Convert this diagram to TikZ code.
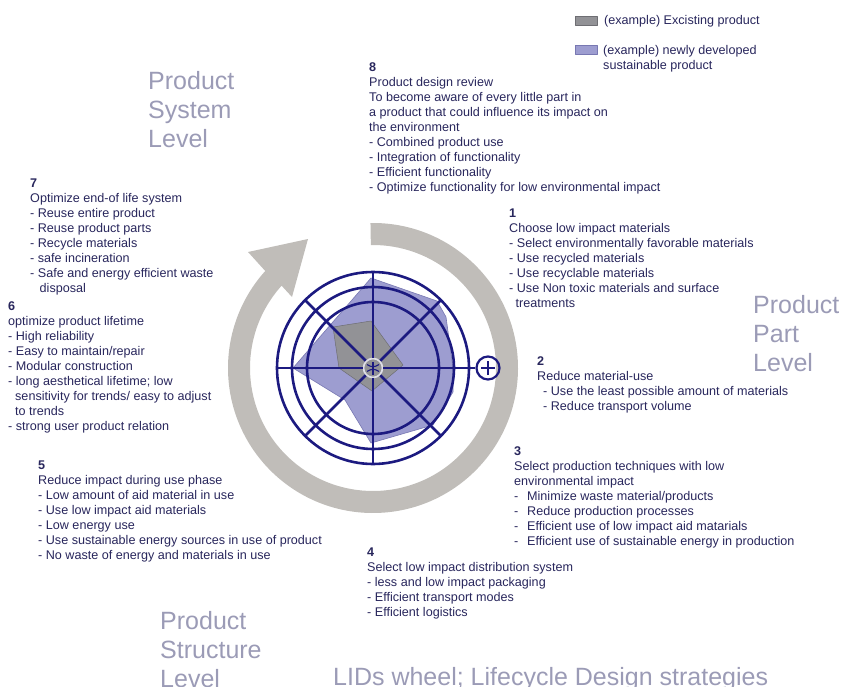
\documentclass[tikz,border=0pt]{standalone}
\usepackage{fontspec}
\setmainfont{Liberation Sans}
\definecolor{textnavy}{RGB}{40,38,92}
\definecolor{levelgray}{RGB}{155,155,182}
\definecolor{wheelnavy}{RGB}{28,26,128}
\definecolor{ringgray}{RGB}{192,189,185}
\definecolor{newblue}{RGB}{157,157,208}
\definecolor{newblueedge}{RGB}{120,120,178}
\definecolor{oldgray}{RGB}{146,146,150}
\definecolor{oldgrayedge}{RGB}{110,110,115}
\definecolor{hubring}{RGB}{222,222,230}
\begin{document}
\begin{tikzpicture}[x=1pt,y=-1pt,
  body/.style={anchor=north west, align=left, inner sep=0pt, text=textnavy,
    font=\fontsize{12.6}{15}\selectfont},
  level/.style={anchor=north west, align=left, inner sep=0pt, text=levelgray,
    font=\fontsize{25}{29}\selectfont},
  wheelline/.style={draw=wheelnavy, line width=2.6pt},
  newprod/.style={fill=newblue, draw=newblueedge, line width=0.6pt, line join=round},
  oldprod/.style={fill=oldgray, draw=oldgrayedge, line width=0.5pt, line join=round},
]
\useasboundingbox (0,0) rectangle (856,687);

% --- legend ---
\node[oldprod, minimum width=22pt, minimum height=9pt, inner sep=0pt] (legold) at (586,20.5) {};
\node[newprod, minimum width=22pt, minimum height=9pt, inner sep=0pt] (legnew) at (586,49.5) {};
\node[body] (legoldtxt) at (604,15.3) {(example) Excisting product};
\node[body] (legnewtxt) at (603,45.3) {(example) newly developed\\sustainable product};

% --- level labels and title ---
\node[level] (sysl) at (148,71) {Product\\System\\Level};
\node[level] (partl) at (753,295) {Product\\Part\\Level};
\node[level] (strl) at (160,611) {Product\\Structure\\Level};
\node[level, anchor=base west] (title) at (333,685) {LIDs wheel; Lifecycle Design strategies};

% --- lifecycle ring with arrow ---
\begin{scope}[shift={(373,368)}, yscale=-1]
  \fill[ringgray] (91:145) arc[start angle=91, end angle=-222, radius=145]
    -- (-125,116) -- (-65,129) -- (-81,71) -- (-222:123)
    arc[start angle=-222, end angle=91, radius=123] -- cycle;
\end{scope}

% --- strategy profiles ---
\draw[newprod] (371,278) -- (437,301) -- (446,317) -- (453,368) -- (453,392)
  -- (433,425) -- (371,443) -- (345,400) -- (293,368) -- cycle;
\draw[oldprod] (333,327) -- (371,321) -- (403,365) -- (372,391) -- (339,368) -- cycle;

% --- wheel grid ---
\begin{scope}[shift={(373,368)}, yscale=-1]
  \node[circle, draw=hubring, line width=1.7pt, minimum size=19pt, inner sep=0pt] (hub) at (0,0) {};
  \node[circle, wheelline, line width=2.2pt, minimum size=23pt, inner sep=0pt] (plus) at (115,0) {};
  \draw[wheelline] (0,0) circle[radius=66];
  \draw[wheelline] (0,0) circle[radius=81];
  \draw[wheelline] (0,0) circle[radius=96];
  \foreach \a in {45,90,...,315}
    \draw[wheelline] (hub.\a) -- (\a:96);
  \draw[wheelline] (hub.east) -- (plus.west);
  \draw[wheelnavy, line width=2pt] (plus.center) ++(-7,0) -- ++(14,0);
  \draw[wheelnavy, line width=2pt] (plus.center) ++(0,-7) -- ++(0,14);
  % hub emblem
  \draw[wheelnavy, line width=1.1pt] (0,-6.5) -- (0,6.5);
  \draw[wheelnavy, line width=1.1pt] (-6,3.5) .. controls (-2,0.6) and (2,0.6) .. (6,3.5);
  \draw[wheelnavy, line width=1.1pt] (-6,-3.5) .. controls (-2,-0.6) and (2,-0.6) .. (6,-3.5);
\end{scope}

% --- strategy texts ---
\node[body] (s8) at (369,62.5) {\textbf{8}\\Product design review\\To become aware of every little part in\\a product that could influence its impact on\\the environment\\- Combined product use\\- Integration of functionality\\- Efficient functionality\\- Optimize functionality for low environmental impact};

\node[body] (s1) at (509,208.5) {\textbf{1}\\Choose low impact materials\\- Select environmentally favorable materials\\- Use recycled materials\\- Use recyclable materials\\- Use Non toxic materials and surface\\\hspace*{6.5pt}treatments};

\node[body] (s2) at (537,356.5) {\textbf{2}\\Reduce material-use\\\hspace*{6pt}- Use the least possible amount of materials\\\hspace*{6pt}- Reduce transport volume};

\node[body] (s3) at (514,446.5) {\textbf{3}\\Select production techniques with low\\environmental impact\\-\hspace*{8.8pt}Minimize waste material/products\\-\hspace*{8.8pt}Reduce production processes\\-\hspace*{8.8pt}Efficient use of low impact aid matarials\\-\hspace*{8.8pt}Efficient use of sustainable energy in production};

\node[body] (s4) at (367,547.5) {\textbf{4}\\Select low impact distribution system\\- less and low impact packaging\\- Efficient transport modes\\- Efficient logistics};

\node[body] (s5) at (38,460.5) {\textbf{5}\\Reduce impact during use phase\\- Low amount of aid material in use\\- Use low impact aid materials\\- Low energy use\\- Use sustainable energy sources in use of product\\- No waste of energy and materials in use};

\node[body] (s6) at (8,301.5) {\textbf{6}\\optimize product lifetime\\- High reliability\\- Easy to maintain/repair\\- Modular construction\\- long aesthetical lifetime; low\\\hspace*{7pt}sensitivity for trends/ easy to adjust\\\hspace*{7pt}to trends\\- strong user product relation};

\node[body] (s7) at (30,178.5) {\textbf{7}\\Optimize end-of life system\\- Reuse entire product\\- Reuse product parts\\- Recycle materials\\- safe incineration\\- Safe and energy efficient waste\\\hspace*{9.5pt}disposal};
\end{tikzpicture}
\end{document}
